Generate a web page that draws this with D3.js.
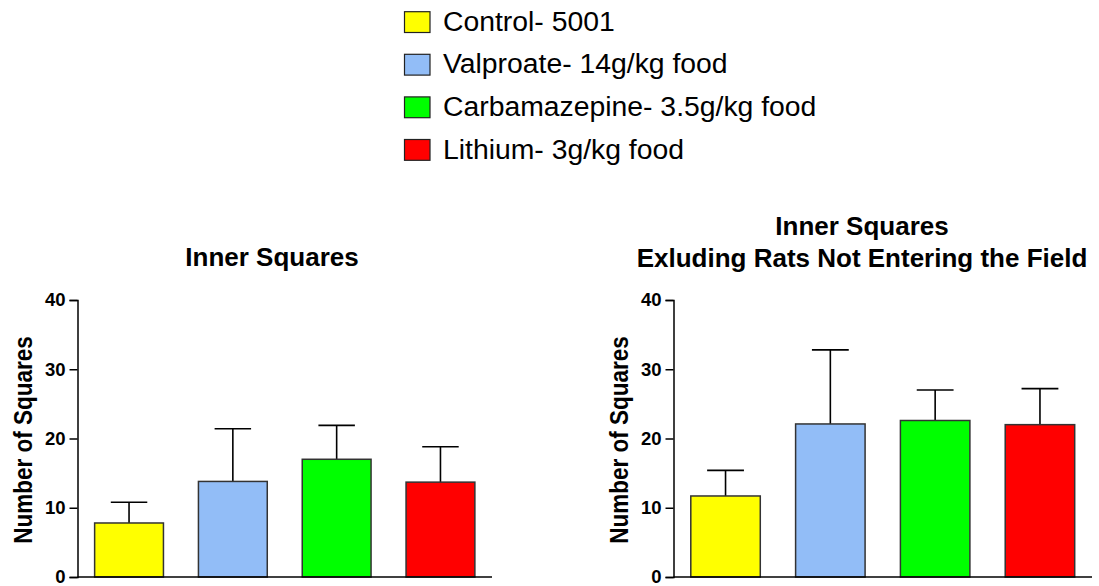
<!DOCTYPE html>
<html>
<head>
<meta charset="utf-8">
<script src="https://cdn.jsdelivr.net/npm/d3@7/dist/d3.min.js"></script>
<style>
  html, body { margin: 0; padding: 0; background: #fff; }
  svg { display: block; font-family: "Liberation Sans", Arial, sans-serif; }
</style>
</head>
<body>
<svg id="chart" width="1099" height="586"></svg>
<script>
// Treatment groups and their colours
const groups = ["Control- 5001", "Valproate- 14g/kg food", "Carbamazepine- 3.5g/kg food", "Lithium- 3g/kg food"];
const colors = ["#ffff00", "#92bdf7", "#00ff00", "#ff0000"];

// Panel A: all rats
const meansAll = [7.8, 13.8, 17.0, 13.7];
const errAll   = [10.8, 21.4, 21.9, 18.8];   // top of error bar (mean + SEM)

// Panel B: excluding rats that never entered the field
const meansEntered = [11.7, 22.1, 22.6, 22.0];
const errEntered   = [15.4, 32.8, 27.0, 27.2];

const yTicks = [0, 10, 20, 30, 40];
const yLabel = "Number of Squares";

const svg = d3.select("#chart");

// Legend
const legend = svg.append("g").attr("transform", "translate(404.5,0)");
groups.forEach((g, i) => {
  const row = legend.append("g").attr("transform", `translate(0,${11.7 + i * 42.6})`);
  row.append("rect").attr("width", 25.5).attr("height", 20.8)
    .attr("fill", colors[i]).attr("stroke", "#222").attr("stroke-width", 1.2);
  row.append("text")
    .attr("transform", "translate(38.5,19) scale(1.05,1)")
    .attr("font-size", 27).attr("fill", "#000").text(g);
});

function panel(opts) {
  const { left, right, top, bottom, means, errs, title, titleX, titleY } = opts;
  const g = svg.append("g");

  const x = d3.scaleBand().domain(groups).range([left, right]).paddingInner(0.337).paddingOuter(0.165);
  const y = d3.scaleLinear().domain([0, 40]).range([bottom, top]);

  // Title lines
  title.forEach((t, i) => {
    g.append("text").attr("x", titleX).attr("y", titleY + i * 31.5)
      .attr("text-anchor", "middle").attr("font-size", 26).attr("font-weight", "bold")
      .text(t);
  });

  // Error bars (upper only), drawn behind the bars
  const capHalf = x.bandwidth() * 0.265;
  groups.forEach((grp, i) => {
    const cx = x(grp) + x.bandwidth() / 2;
    g.append("line").attr("x1", cx).attr("x2", cx)
      .attr("y1", y(means[i])).attr("y2", y(errs[i]))
      .attr("stroke", "#000").attr("stroke-width", 1.6);
    g.append("line").attr("x1", cx - capHalf).attr("x2", cx + capHalf)
      .attr("y1", y(errs[i])).attr("y2", y(errs[i]))
      .attr("stroke", "#000").attr("stroke-width", 1.6);
  });

  // Bars
  g.selectAll("rect.bar").data(groups).join("rect")
    .attr("class", "bar")
    .attr("x", d => x(d))
    .attr("width", x.bandwidth())
    .attr("y", (d, i) => y(means[i]))
    .attr("height", (d, i) => y(0) - y(means[i]))
    .attr("fill", (d, i) => colors[i])
    .attr("stroke", "#333").attr("stroke-width", 1.5);

  // Y axis
  const yAxis = d3.axisLeft(y).tickValues(yTicks).tickSize(8).tickPadding(4);
  const ya = g.append("g").attr("transform", `translate(${left},0)`).call(yAxis);
  ya.select(".domain").attr("stroke", "#000").attr("stroke-width", 1.5);
  ya.selectAll(".tick line").attr("stroke", "#000").attr("stroke-width", 1.5);
  ya.selectAll(".tick text").attr("font-size", 18.5).attr("font-weight", "bold")
    .attr("font-family", "Liberation Sans, Arial, sans-serif").attr("fill", "#000");

  // X axis baseline
  g.append("line").attr("x1", left).attr("x2", right)
    .attr("y1", y(0)).attr("y2", y(0))
    .attr("stroke", "#000").attr("stroke-width", 1.5);

  // Y axis label
  g.append("text")
    .attr("transform", `translate(${left - 45.5},${(top + bottom) / 2 + 1.5}) scale(1.13,1) rotate(-90)`)
    .attr("text-anchor", "middle").attr("font-size", 22.5).attr("font-weight", "bold")
    .text(yLabel);
}

panel({
  left: 77.5, right: 492, top: 300, bottom: 577,
  means: meansAll, errs: errAll,
  title: ["Inner Squares"], titleX: 272, titleY: 265.5
});

panel({
  left: 673.5, right: 1092, top: 300, bottom: 577,
  means: meansEntered, errs: errEntered,
  title: ["Inner Squares", "Exluding Rats Not Entering the Field"], titleX: 862, titleY: 235
});
</script>
</body>
</html>
